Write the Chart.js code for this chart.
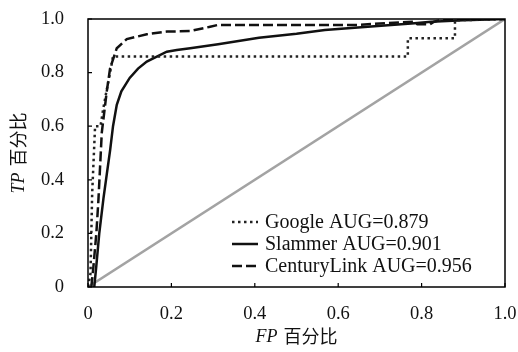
<!DOCTYPE html>
<html>
<head>
<meta charset="utf-8">
<script src="https://cdn.jsdelivr.net/npm/chart.js@4.4.0/dist/chart.umd.min.js"></script>
<style>
  html, body { margin: 0; padding: 0; background: #fff; }
  #roc { display: block; }
</style>
</head>
<body>
<canvas id="roc" width="518" height="352"></canvas>
<script>
'use strict'

// ROC points (FP rate, TP rate)
const googleFP = [0, 0.006, 0.01, 0.017, 0.03, 0.036, 0.043, 0.053, 0.06, 0.767, 0.767, 0.88, 0.88, 1.0];
const googleTP = [0, 0.05, 0.35, 0.6, 0.6, 0.66, 0.72, 0.8, 0.86, 0.86, 0.928, 0.928, 0.995, 1.0];

const slammerFP = [0.015, 0.02, 0.027, 0.037, 0.045, 0.053, 0.06, 0.069, 0.08, 0.1, 0.12, 0.141, 0.165, 0.189, 0.213, 0.245, 0.312, 0.41, 0.5, 0.568, 0.671, 0.783, 0.823, 0.9, 1.0];
const slammerTP = [0, 0.08, 0.2, 0.33, 0.42, 0.51, 0.6, 0.68, 0.73, 0.78, 0.815, 0.841, 0.86, 0.878, 0.884, 0.891, 0.906, 0.93, 0.945, 0.959, 0.971, 0.984, 0.99, 0.995, 1.0];

const centuryFP = [0.008, 0.013, 0.02, 0.025, 0.033, 0.045, 0.053, 0.069, 0.093, 0.141, 0.189, 0.245, 0.293, 0.312, 0.647, 0.72, 0.78, 0.79, 0.82, 0.83, 0.855, 1.0];
const centuryTP = [0, 0.076, 0.2, 0.325, 0.575, 0.73, 0.816, 0.891, 0.925, 0.943, 0.953, 0.955, 0.971, 0.978, 0.978, 0.985, 0.99, 0.98, 0.98, 0.99, 1.0, 1.0];

const diagFP = [0, 1];
const diagTP = [0, 1];

const seriesLabels = ['Google AUG=0.879', 'Slammer AUG=0.901', 'CenturyLink AUG=0.956'];
const tickValues = [0, 0.2, 0.4, 0.6, 0.8, 1.0];

const serif = '"Liberation Serif", "DejaVu Serif", serif';
const cjk = '"Noto Sans CJK SC", sans-serif';

function toPoints(xs, ys) {
    return xs.map((x, i) => ({ x: x, y: ys[i] }));
}

function fmtTick(v) {
    return v === 0 ? '0' : v.toFixed(1);
}

// frame around the plot + short inward ticks
const frameTicks = {
    id: 'frameTicks',
    afterDatasetsDraw(chart) {
        const { ctx, chartArea: a, scales } = chart;
        ctx.save();
        ctx.strokeStyle = '#000';
        ctx.lineWidth = 1.5;
        ctx.setLineDash([]);
        ctx.strokeRect(a.left, a.top, a.right - a.left, a.bottom - a.top);
        ctx.lineWidth = 1.2;
        ctx.beginPath();
        tickValues.forEach(v => {
            const px = scales.x.getPixelForValue(v);
            ctx.moveTo(px, a.bottom);
            ctx.lineTo(px, a.bottom - 4);
            const py = scales.y.getPixelForValue(v);
            ctx.moveTo(a.left, py);
            ctx.lineTo(a.left + 4, py);
        });
        ctx.stroke();
        ctx.restore();
    }
};

// axis titles with italic TP / FP
function drawTitle(ctx, italicPart, rest) {
    ctx.font = 'italic 18px ' + serif;
    const w1 = ctx.measureText(italicPart).width;
    ctx.font = '18px ' + cjk;
    const w2 = ctx.measureText(rest).width;
    const gap = 6;
    let x = -(w1 + gap + w2) / 2;
    ctx.textBaseline = 'middle';
    ctx.textAlign = 'left';
    ctx.font = 'italic 18px ' + serif;
    ctx.fillText(italicPart, x, 1);
    ctx.font = '18px ' + cjk;
    ctx.fillText(rest, x + w1 + gap, 0);
}

const axisTitles = {
    id: 'axisTitles',
    afterDraw(chart) {
        const { ctx, chartArea: a } = chart;
        ctx.save();
        ctx.fillStyle = '#111';
        ctx.translate((a.left + a.right) / 2, chart.height - 16);
        drawTitle(ctx, 'FP', '百分比');
        ctx.restore();
        ctx.save();
        ctx.fillStyle = '#111';
        ctx.translate(18, (a.top + a.bottom) / 2);
        ctx.rotate(-Math.PI / 2);
        drawTitle(ctx, 'TP', '百分比');
        ctx.restore();
    }
};

// legend inside the plot, lower right
const rocLegend = {
    id: 'rocLegend',
    afterDraw(chart) {
        const { ctx, chartArea: a } = chart;
        const sets = chart.data.datasets.filter(d => d.label);
        ctx.save();
        sets.forEach((ds, i) => {
            const y = a.bottom - 65 + i * 22;
            const x0 = a.right - 273;
            ctx.strokeStyle = ds.borderColor;
            ctx.lineWidth = ds.borderWidth;
            ctx.setLineDash(ds.borderDash || []);
            ctx.beginPath();
            ctx.moveTo(x0, y);
            ctx.lineTo(x0 + 26, y);
            ctx.stroke();
            ctx.setLineDash([]);
            ctx.fillStyle = '#111';
            ctx.font = '20px ' + serif;
            ctx.textBaseline = 'middle';
            ctx.textAlign = 'left';
            ctx.fillText(ds.label, x0 + 33, y + 1);
        });
        ctx.restore();
    }
};

const ctx = document.getElementById('roc').getContext('2d');
const rocChart = new Chart(ctx, {
    type: 'line',
    data: {
        datasets: [
            {
                label: seriesLabels[0],
                data: toPoints(googleFP, googleTP),
                borderColor: '#222',
                borderWidth: 2.5,
                borderDash: [2.5, 3.5],
                order: 1
            },
            {
                label: seriesLabels[1],
                data: toPoints(slammerFP, slammerTP),
                borderColor: '#111',
                borderWidth: 2.5,
                order: 2
            },
            {
                label: seriesLabels[2],
                data: toPoints(centuryFP, centuryTP),
                borderColor: '#111',
                borderWidth: 2.5,
                borderDash: [10, 4],
                order: 0
            },
            {
                label: '',
                data: toPoints(diagFP, diagTP),
                borderColor: '#a3a3a3',
                borderWidth: 2.5,
                order: 10
            }
        ]
    },
    options: {
        responsive: false,
        animation: false,
        devicePixelRatio: 1,
        elements: {
            point: { radius: 0 },
            line: { tension: 0, fill: false, borderCapStyle: 'butt' }
        },
        layout: { padding: { top: 19, right: 13, left: 0, bottom: 0 } },
        plugins: {
            legend: { display: false },
            tooltip: { enabled: false }
        },
        scales: {
            x: {
                type: 'linear',
                min: 0,
                max: 1,
                grid: { display: false },
                border: { display: false },
                afterBuildTicks: s => { s.ticks = tickValues.map(v => ({ value: v })); },
                afterFit: s => { s.height = 65; s.paddingLeft = 0; s.paddingRight = 0; },
                ticks: {
                    padding: 8,
                    maxRotation: 0,
                    color: '#111',
                    font: { family: serif, size: 18.5 },
                    callback: v => fmtTick(v)
                }
            },
            y: {
                type: 'linear',
                min: 0,
                max: 1,
                grid: { display: false },
                border: { display: false },
                afterBuildTicks: s => { s.ticks = tickValues.map(v => ({ value: v })); },
                afterFit: s => { s.width = 88; s.paddingTop = 0; s.paddingBottom = 0; },
                ticks: {
                    padding: 16,
                    color: '#111',
                    font: { family: serif, size: 18.5 },
                    callback: v => fmtTick(v)
                }
            }
        }
    },
    plugins: [frameTicks, axisTitles, rocLegend]
});
</script>
</body>
</html>
